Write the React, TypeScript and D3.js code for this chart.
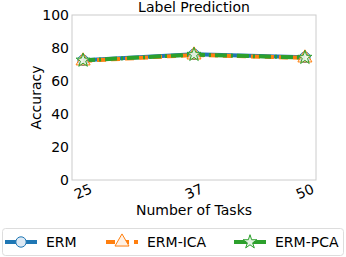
import React, { useEffect, useRef } from 'react';
import * as d3 from 'd3';

const tasks = ['25', '37', '50'];
const yTicks = [0, 20, 40, 60, 80, 100];
const seriesNames = ['ERM', 'ERM-ICA', 'ERM-PCA'];
const ermValues = [72.6, 76.2, 74.4];
const ermIcaValues = [72.2, 75.8, 74.0];
const ermPcaValues = [72.5, 76.0, 74.2];

const colors = ['#1f77b4', '#ff7f0e', '#2ca02c'];
const fills = ['#dde9f4', '#fff1e4', '#e4f3e4'];
const dashes = ['none', '9,5', '12,4,2,4'];
const shapes = [d3.symbolCircle, d3.symbolTriangle, d3.symbolStar];

const App: React.FC = () => {
  const ref = useRef<SVGSVGElement | null>(null);

  useEffect(() => {
    const svg = d3.select(ref.current);
    svg.selectAll('*').remove();
    const font = 'DejaVu Sans';
    const fs = 14;

    const left = 72, right = 316, top = 15, bottom = 180;
    const x = d3.scalePoint<string>().domain(tasks).range([left, right]).padding(0.1);
    const y = d3.scaleLinear().domain([0, 100]).range([bottom, top]);

    // frame
    svg.append('rect')
      .attr('x', left).attr('y', top)
      .attr('width', right - left).attr('height', bottom - top)
      .attr('fill', 'white').attr('stroke', '#cccccc').attr('stroke-width', 1);

    // y ticks
    const yAxis = svg.append('g').attr('transform', `translate(${left},0)`)
      .call(d3.axisLeft(y).tickValues(yTicks).tickSize(0).tickPadding(3));
    yAxis.select('.domain').remove();
    yAxis.selectAll('text').attr('font-family', font).attr('font-size', fs).attr('fill', '#000');

    // x ticks rotated
    svg.append('g').selectAll('text').data(tasks).enter().append('text')
      .attr('transform', d => `translate(${(x(d) || 0) + 2},${bottom + 16}) rotate(-24)`)
      .attr('text-anchor', 'middle')
      .attr('font-family', font).attr('font-size', fs)
      .text(d => d);

    const allSeries = [ermValues, ermIcaValues, ermPcaValues];
    const line = d3.line<number>().x((_, i) => x(tasks[i]) || 0).y(d => y(d));

    allSeries.forEach((vals, s) => {
      svg.append('path')
        .attr('d', line(vals) || '')
        .attr('fill', 'none')
        .attr('stroke', colors[s])
        .attr('stroke-width', 4)
        .attr('stroke-dasharray', dashes[s]);
    });

    allSeries.forEach((vals, s) => {
      svg.append('g').selectAll('path').data(vals).enter().append('path')
        .attr('transform', (d, i) => `translate(${x(tasks[i])},${y(d)})`)
        .attr('d', d3.symbol().type(shapes[s]).size(s === 2 ? 60 : 85)())
        .attr('fill', fills[s]).attr('fill-opacity', 0.6)
        .attr('stroke', colors[s]).attr('stroke-width', 1);
    });

    // title and labels
    svg.append('text').attr('x', (left + right) / 2).attr('y', 12)
      .attr('text-anchor', 'middle').attr('font-family', font).attr('font-size', fs)
      .text('Label Prediction');

    svg.append('text')
      .attr('transform', `translate(41,${(top + bottom) / 2}) rotate(-90)`)
      .attr('text-anchor', 'middle').attr('font-family', font).attr('font-size', fs)
      .text('Accuracy');

    svg.append('text').attr('x', (left + right) / 2).attr('y', 215)
      .attr('text-anchor', 'middle').attr('font-family', font).attr('font-size', fs)
      .text('Number of Tasks');

    // legend
    svg.append('rect').attr('x', 2.5).attr('y', 228.5).attr('width', 341).attr('height', 27)
      .attr('rx', 3).attr('fill', 'white').attr('stroke', '#dddddd');

    const legendX = [5, 106, 234];
    seriesNames.forEach((name, s) => {
      const g = svg.append('g').attr('transform', `translate(${legendX[s]},242)`);
      g.append('line').attr('x1', 0).attr('x2', 32).attr('y1', 0).attr('y2', 0)
        .attr('stroke', colors[s]).attr('stroke-width', 4)
        .attr('stroke-dasharray', s === 1 ? '9,5' : 'none');
      g.append('path').attr('transform', 'translate(16,0)')
        .attr('d', d3.symbol().type(shapes[s]).size(s === 2 ? 60 : 85)())
        .attr('fill', fills[s]).attr('stroke', colors[s]).attr('stroke-width', 1);
      g.append('text').attr('x', 41).attr('y', 5)
        .attr('font-family', font).attr('font-size', fs)
        .text(name);
    });
  }, []);

  return <svg ref={ref} width={346} height={257} style={{ position: 'absolute', left: 0, top: 0 }} />;
};

export default App;
